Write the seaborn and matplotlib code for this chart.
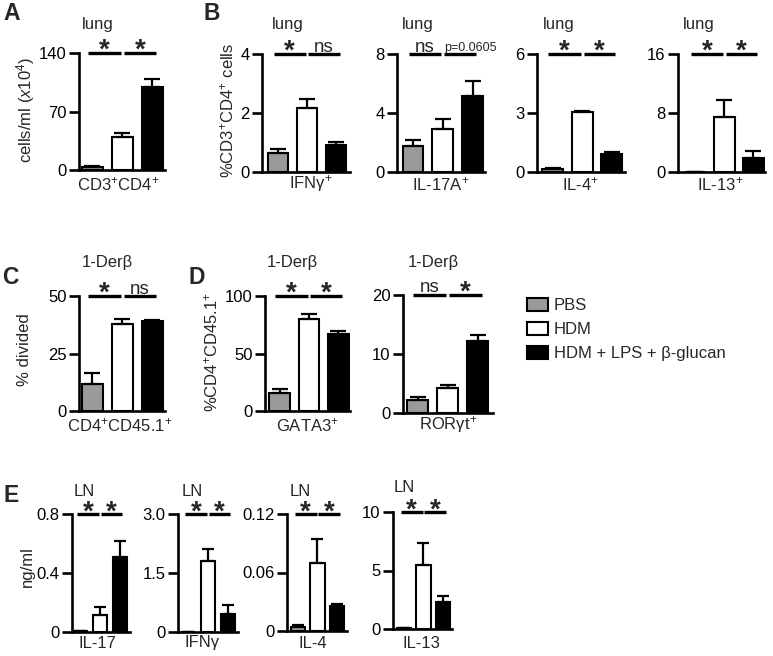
import numpy as np
import pandas as pd
import matplotlib
matplotlib.use('Agg')
import matplotlib.pyplot as plt
from matplotlib.patches import Patch
import seaborn as sns

# ---------------- data ----------------
groups = ['PBS', 'HDM', 'HDM + LPS + β-glucan']
colors = ['#9a9a9a', '#ffffff', '#000000']

A_cd4_mean = [3, 40, 99]
A_cd4_err = [1.5, 4.5, 10]

B_ifng_mean = [0.65, 2.16, 0.91]
B_ifng_err = [0.12, 0.32, 0.11]
B_il17a_mean = [1.73, 2.93, 5.18]
B_il17a_err = [0.45, 0.67, 0.97]
B_il4_mean = [0.17, 3.04, 0.93]
B_il4_err = [0.05, 0.04, 0.07]
B_il13_mean = [0.05, 7.4, 1.9]
B_il13_err = [0.0, 2.3, 0.9]

C_div_mean = [11.7, 37.7, 39.1]
C_div_err = [4.7, 2.3, 0.6]

D_gata3_mean = [16, 80, 67]
D_gata3_err = [3, 4, 2.5]
D_rorgt_mean = [2.15, 4.25, 12.2]
D_rorgt_err = [0.5, 0.45, 1.0]

E_il17_mean = [0.005, 0.118, 0.506]
E_il17_err = [0.0, 0.052, 0.111]
E_ifng_mean = [0.01, 1.81, 0.45]
E_ifng_err = [0.0, 0.31, 0.23]
E_il4_mean = [0.0044, 0.070, 0.026]
E_il4_err = [0.0016, 0.024, 0.002]
E_il13_mean = [0.05, 5.45, 2.3]
E_il13_err = [0.0, 1.9, 0.55]

# ---------------- style ----------------
sns.set_style('ticks')
plt.rcParams['font.family'] = ['Liberation Sans', 'DejaVu Sans']
plt.rcParams['mathtext.fontset'] = 'custom'
plt.rcParams['mathtext.rm'] = 'Liberation Sans'
plt.rcParams['mathtext.it'] = 'Liberation Sans:italic'
plt.rcParams['mathtext.bf'] = 'Liberation Sans:bold'
plt.rcParams['mathtext.default'] = 'regular'

W, H = 773, 656
FS = 12
fig = plt.figure(figsize=(W / 100, H / 100), dpi=100)


def fx(x):
    return x / W


def fy(y):
    return 1 - y / H


def panel(box, xlim, mean, err, yticks, yticklabels, sig, bw=0.7, cap=6,
          star_off=-3.2):
    x0, x1, yt, yb = box
    ax = fig.add_axes([fx(x0), fy(yb), (x1 - x0) / W, (yb - yt) / H])
    df = pd.DataFrame({'group': groups, 'value': mean})
    sns.barplot(data=df, x='group', y='value', hue='group', order=groups,
                hue_order=groups, palette=colors, edgecolor='black',
                linewidth=1.5, width=bw, errorbar=None, legend=False, ax=ax)
    ax.errorbar(np.arange(3), mean, yerr=[np.zeros(3), err], fmt='none',
                ecolor='black', elinewidth=1.6, capsize=cap, capthick=1.6,
                zorder=1)
    ymax = yticks[-1]
    ax.set_xlim(*xlim)
    ax.set_ylim(0, ymax)
    ax.set_yticks(yticks)
    ax.set_yticklabels(yticklabels, fontsize=FS)
    ax.set_xticks([])
    ax.set_xlabel('')
    ax.set_ylabel('')
    for s in ['top', 'right']:
        ax.spines[s].set_visible(False)
    for s in ['left', 'bottom']:
        ax.spines[s].set_linewidth(1.9)
        ax.spines[s].set_color('black')
    ax.tick_params(axis='y', length=7, width=1.9, pad=2, colors='black')
    segs = [(-0.15, 0.95), (1.05, 2.12)]
    for (a, b), s in zip(segs, sig):
        ax.plot([a, b], [ymax, ymax], color='black', lw=2.4, clip_on=False,
                solid_capstyle='butt')
        xc = (a + b) / 2
        if s == '*':
            ax.annotate('*', xy=(xc, ymax), xytext=(0, star_off),
                        textcoords='offset points', ha='center', va='baseline',
                        fontsize=20, fontweight='bold', annotation_clip=False)
        elif s == 'ns':
            ax.annotate('ns', xy=(xc, ymax), xytext=(0, 1.8),
                        textcoords='offset points', ha='center', va='baseline',
                        fontsize=13.5, annotation_clip=False)
        else:
            ax.annotate(s, xy=(a, ymax), xytext=(0, 2.2),
                        textcoords='offset points', ha='left', va='baseline',
                        fontsize=9, annotation_clip=False)
    return ax


def ftext(x, y, s, **kw):
    kw.setdefault('fontsize', FS)
    kw.setdefault('ha', 'center')
    kw.setdefault('va', 'center')
    fig.text(fx(x), fy(y), s, **kw)


# ---------------- row A / B ----------------
panel((79, 165, 53, 170), (-0.45, 2.42), A_cd4_mean, A_cd4_err,
      [0, 70, 140], ['0', '70', '140'], ['*', '*'])
panel((262, 350, 54, 172), (-0.55, 2.48), B_ifng_mean, B_ifng_err,
      [0, 2, 4], ['0', '2', '4'], ['*', 'ns'])
panel((397, 485, 54, 172), (-0.54, 2.42), B_il17a_mean, B_il17a_err,
      [0, 4, 8], ['0', '4', '8'], ['ns', 'p=0.0605'])
panel((537, 625, 54, 172), (-0.53, 2.45), B_il4_mean, B_il4_err,
      [0, 3, 6], ['0', '3', '6'], ['*', '*'])
panel((678, 765, 54, 172), (-0.6, 2.4), B_il13_mean, B_il13_err,
      [0, 8, 16], ['0', '8', '16'], ['*', '*'])

# ---------------- row C / D ----------------
panel((79, 165, 296, 411), (-0.45, 2.42), C_div_mean, C_div_err,
      [0, 25, 50], ['0', '25', '50'], ['*', 'ns'])
panel((265, 350, 296, 411), (-0.5, 2.4), D_gata3_mean, D_gata3_err,
      [0, 50, 100], ['0', '50', '100'], ['*', '*'])
panel((403, 493, 295, 413), (-0.5, 2.5), D_rorgt_mean, D_rorgt_err,
      [0, 10, 20], ['0', '10', '20'], ['ns', '*'])

# ---------------- row E ----------------
panel((72, 130, 514, 632), (-0.4, 2.5), E_il17_mean, E_il17_err,
      [0, 0.4, 0.8], ['0', '0.4', '0.8'], ['*', '*'], bw=0.72, cap=4.5,
      star_off=-4.0)
panel((178, 238, 514, 632), (-0.5, 2.5), E_ifng_mean, E_ifng_err,
      [0, 1.5, 3.0], ['0', '1.5', '3.0'], ['*', '*'], bw=0.72, cap=4.5,
      star_off=-4.0)
panel((287, 347, 514, 631), (-0.55, 2.5), E_il4_mean, E_il4_err,
      [0, 0.06, 0.12], ['0', '0.06', '0.12'], ['*', '*'], bw=0.72, cap=4.5,
      star_off=-4.0)
panel((393, 452, 512, 629), (-0.55, 2.45), E_il13_mean, E_il13_err,
      [0, 5, 10], ['0', '5', '10'], ['*', '*'], bw=0.72, cap=4.5,
      star_off=-4.0)

# ---------------- texts ----------------
for s, x, y in [('A', 12, 13), ('B', 212, 13), ('C', 10, 278),
                ('D', 197, 278), ('E', 11, 495)]:
    ftext(x, y, s, fontsize=16.5, fontweight='bold')

for s, x, y in [('lung', 98, 25), ('lung', 288, 25), ('lung', 418, 25),
                ('lung', 559, 25), ('lung', 699, 25),
                ('1-Derβ', 107, 263), ('1-Derβ', 292, 263), ('1-Derβ', 433, 263),
                ('LN', 84, 491), ('LN', 192, 491), ('LN', 300, 491),
                ('LN', 404, 488)]:
    ftext(x, y, s)

for s, x, y in [(r'CD3$^{+}$CD4$^{+}$', 118, 184), (r'IFNγ$^{+}$', 311, 184),
                (r'IL-17A$^{+}$', 441, 184), (r'IL-4$^{+}$', 581, 184),
                (r'IL-13$^{+}$', 720, 184),
                (r'CD4$^{+}$CD45.1$^{+}$', 120, 425), (r'GATA3$^{+}$', 307, 425),
                (r'RORγt$^{+}$', 448, 425),
                ('IL-17', 97, 643), ('IFNγ', 202, 643), ('IL-4', 313, 643),
                ('IL-13', 421, 643)]:
    ftext(x, y, s)

for s, x, y in [(r'cells/ml ($\it{x}$10$^{4}$)', 26, 110),
                (r'%CD3$^{+}$CD4$^{+}$ cells', 227, 110),
                ('% divided', 25, 350),
                (r'%CD4$^{+}$CD45.1$^{+}$', 211, 352),
                ('ng/ml', 27, 567)]:
    ftext(x, y, s, rotation=90)

handles = [Patch(facecolor=c, edgecolor='black', linewidth=1.5) for c in colors]
fig.legend(handles, groups, loc='upper left', bbox_to_anchor=(fx(527), fy(298)),
           frameon=False, fontsize=FS, handlelength=1.25, handleheight=0.85,
           handletextpad=0.35, labelspacing=0.5, borderaxespad=0, borderpad=0)

fig.savefig('out.png', dpi=100)
